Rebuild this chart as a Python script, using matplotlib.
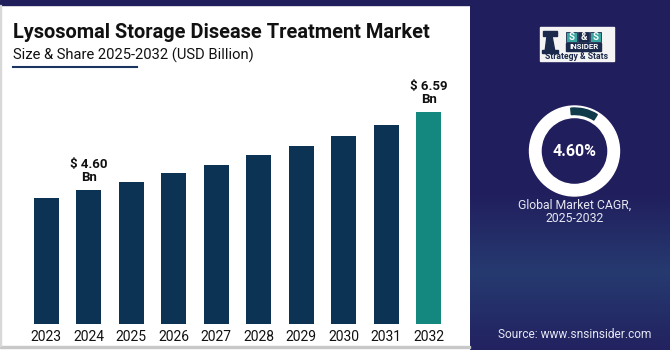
import numpy as np
import matplotlib
matplotlib.use("Agg")
import matplotlib.pyplot as plt
from matplotlib.patches import Rectangle, Wedge, Polygon

plt.rcParams['font.family'] = ['Roboto', 'DejaVu Sans']

# data
years = ['2023', '2024', '2025', '2026', '2027', '2028', '2029', '2030', '2031', '2032']
values = [4.40, 4.60, 4.81, 5.02, 5.24, 5.48, 5.72, 5.98, 6.26, 6.59]
labelled = {'2024': '$ 4.60\nBn', '2032': '$ 6.59\nBn'}
cagr_text = '4.60%'

W, H = 670, 350
NAVY_BAR = '#0c3254'
TEAL = '#14877f'
PANEL = '#211e5c'
LOGO_NAVY = '#1b2a4c'

fig = plt.figure(figsize=(W / 100, H / 100), dpi=100)

# background layer in pixel units (y measured from the top)
bg = fig.add_axes([0, 0, 1, 1])
bg.axis('off')

# right panel gradient
top = np.array([33, 30, 93]) / 255
mid = np.array([38, 58, 112]) / 255
bot = np.array([34, 34, 96]) / 255
grad = np.zeros((200, 1, 3))
for i, t in enumerate(np.linspace(0, 1, 200)):
    if t < 0.55:
        c = top
    elif t < 0.78:
        c = top + (mid - top) * (t - 0.55) / 0.23
    else:
        c = mid + (bot - mid) * (t - 0.78) / 0.22
    grad[i, 0] = c
bg.imshow(grad, extent=[470, W, H, 0], aspect='auto', zorder=0)
bg.set_xlim(0, W)
bg.set_ylim(H, 0)

# top stripe and border of the white card
bg.add_patch(Rectangle((0, 0), 470, 5, color=PANEL, zorder=1))
bg.add_patch(Rectangle((0, 346), 470, 2, color='#c8c8c8', zorder=1))
bg.add_patch(Rectangle((0, 5), 1, 341, color='#d8d8d8', zorder=1))

# title block
bg.text(13, 38, 'Lysosomal Storage Disease Treatment Market', fontsize=14.4,
        fontweight='bold', color='#111111', va='baseline')
bg.text(13, 60, 'Size & Share 2025-2032 (USD Billion)', fontsize=10.6,
        color='#111111', va='baseline')
bg.plot([13, 137], [67, 67], color='#1c3560', lw=1.5)

# logo
bg.add_patch(Rectangle((540, 27), 74, 34, color='#f4f4f4', zorder=2))
bg.add_patch(Polygon([[545, 52], [547, 36], [552, 36], [555, 52]], color=LOGO_NAVY, zorder=3))
bg.add_patch(Rectangle((543, 31), 14, 5, color=LOGO_NAVY, zorder=3))
bg.add_patch(Rectangle((542, 50), 16, 2.5, color=LOGO_NAVY, zorder=3))
for k, ch in enumerate(['S', '&', 'S']):
    fc = '#3aa6a0' if ch == 'S' else LOGO_NAVY
    bg.add_patch(Rectangle((566 + k * 12, 32), 11, 10, facecolor=fc,
                           edgecolor=LOGO_NAVY, lw=0.6, zorder=3))
    bg.text(571.5 + k * 12, 37.3, ch, fontsize=7, fontweight='bold', color='white',
            ha='center', va='center', zorder=4)
bg.add_patch(Rectangle((566, 43), 35, 7.5, color=LOGO_NAVY, zorder=3))
bg.text(583.5, 46.9, 'INSIDER', fontsize=5.6, fontweight='bold', color='white',
        ha='center', va='center', zorder=4)
bg.text(577, 56.5, 'Strategy & Stats', fontsize=6.2, fontweight='bold', color=LOGO_NAVY,
        ha='center', va='center', zorder=4)

# CAGR ring (y axis is inverted, so angles run clockwise)
cx, cy = 574.5, 151
bg.add_patch(Wedge((cx, cy), 45, 0, 360, width=11.5, color='white', zorder=3))
bg.add_patch(Wedge((cx, cy), 43, 265, 302, width=6.5, color='#0e3a4a', zorder=4))
bg.text(cx, cy + 1, cagr_text, fontsize=11.5, fontweight='bold', color='white',
        ha='center', va='center', zorder=5)
bg.text(cx, 212, 'Global Market CAGR,\n2025-2032', fontsize=8.8, color='#e6e6f2',
        ha='center', va='center', linespacing=1.0, zorder=5)
bg.text(575, 334, 'Source: www.snsinsider.com', fontsize=8.6, color='#e6e6f2',
        ha='center', va='center', zorder=5)

# bar chart
ax = fig.add_axes([25 / W, 26 / H, 425 / W, 244 / H])
x = np.arange(len(years))
colors = [TEAL if y == '2032' else NAVY_BAR for y in years]
ax.bar(x, values, width=0.58, color=colors)
ax.set_xlim(-0.5, len(years) - 0.5)
ax.set_ylim(1.18, 7.40)
ax.set_xticks(x)
ax.set_xticklabels(years, fontsize=10, color='#111111')
ax.tick_params(axis='x', length=0, pad=4)
ax.set_yticks([])
for s in ax.spines.values():
    s.set_visible(False)
ax.patch.set_alpha(0)

for i, (y, v) in enumerate(zip(years, values)):
    if y in labelled:
        ax.annotate(labelled[y], (i, v), xytext=(0, 4.5), textcoords='offset points',
                    ha='center', va='bottom', fontsize=9.5, fontweight='bold',
                    color='#111111', linespacing=0.95)

fig.savefig('out.png', dpi=100)
